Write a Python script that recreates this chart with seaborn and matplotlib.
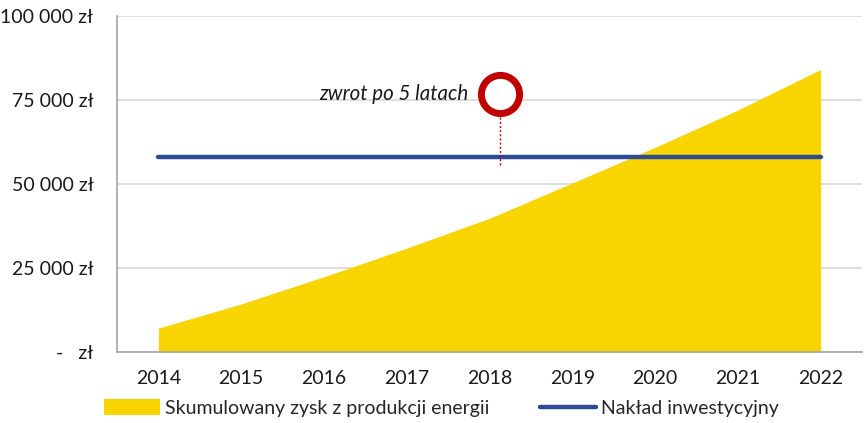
import numpy as np
import pandas as pd
import matplotlib
matplotlib.use("Agg")
import matplotlib.pyplot as plt
from matplotlib.ticker import FixedLocator, FuncFormatter
from matplotlib.patches import Patch
from matplotlib.lines import Line2D
import seaborn as sns

# data
years = [2014, 2015, 2016, 2017, 2018, 2019, 2020, 2021, 2022]
cumulated_profit = [7100, 14300, 22400, 30900, 39800, 50300, 60900, 72000, 84100]
investment = [58000] * 9
payback_label = "zwrot po 5 latach"
payback_pos = (4.13, 76800)
payback_text_pos = (3.75, 76800)
payback_stem = (55600, 70000)

yellow = "#F9D500"
navy = "#2F4B93"
red = "#C00000"
grid_col = "#D9D9D9"
spine_col = "#A6A6A6"

sns.set_style("white")
plt.rcParams['font.family'] = ['Lato', 'DejaVu Sans']
fs = 14

df = pd.DataFrame({"x": np.arange(len(years)), "zysk": cumulated_profit, "naklad": investment})

fig = plt.figure(figsize=(8.65, 4.23), dpi=100)
ax = fig.add_axes([117/865, 1 - 352/423, (862 - 117)/865, (352 - 16)/423])

ax.fill_between(df["x"], 0, df["zysk"], color=yellow, linewidth=0, zorder=2)
sns.lineplot(data=df, x="x", y="naklad", ax=ax, color=navy, linewidth=3.2,
             solid_capstyle="round", zorder=3)

# payback marker
ax.vlines(payback_pos[0], payback_stem[0], payback_stem[1], colors=red,
          linestyles=(0, (1.5, 1.5)), linewidth=1, zorder=4)
ax.plot([payback_pos[0]], [payback_pos[1]], marker="o", markersize=27.5,
        markerfacecolor="white", markeredgecolor=red, markeredgewidth=5, zorder=5)
ax.text(payback_text_pos[0], payback_text_pos[1], payback_label, ha="right", va="center",
        fontsize=14.8, style="italic", color="#1a1a1a")

ax.set_xlim(-0.5, len(years) - 0.5)
ax.set_ylim(0, 100000)

ax.yaxis.set_major_locator(FixedLocator([0, 25000, 50000, 75000, 100000]))
def fmt(v, pos):
    if v == 0:
        return "-   zł"
    return f"{int(v):,} zł".replace(",", " ")
ax.yaxis.set_major_formatter(FuncFormatter(fmt))
ax.yaxis.grid(True, color=grid_col, linewidth=1.2, zorder=0)
ax.set_axisbelow(True)

ax.set_xticks(np.arange(len(years)))
ax.set_xticklabels([str(y) for y in years])
ax.set_xticks(np.arange(-0.5, len(years)), minor=True)
ax.tick_params(axis="x", which="major", length=0, pad=13, labelsize=fs, labelcolor="#1a1a1a")
ax.tick_params(axis="x", which="minor", length=6, width=1, color=spine_col, direction="out")
ax.tick_params(axis="y", which="major", length=6, width=1, color=spine_col, direction="out",
               pad=11, labelsize=fs, labelcolor="#1a1a1a")
ax.set_xlabel("")
ax.set_ylabel("")

for s in ["top", "right"]:
    ax.spines[s].set_visible(False)
for s in ["left", "bottom"]:
    ax.spines[s].set_color(spine_col)
    ax.spines[s].set_linewidth(1.2)

handles = [Patch(facecolor=yellow, edgecolor="none"),
           Line2D([0], [0], color=navy, linewidth=3.2)]
labels = ["Skumulowany zysk z produkcji energii", "Nakład inwestycyjny"]
fig.legend(handles, labels, loc="center", bbox_to_anchor=(0.51, 0.035), ncol=2,
           frameon=False, fontsize=fs, handlelength=2.9, handletextpad=0.25,
           columnspacing=2.6, handleheight=0.9)

fig.savefig("out.png", dpi=100)
